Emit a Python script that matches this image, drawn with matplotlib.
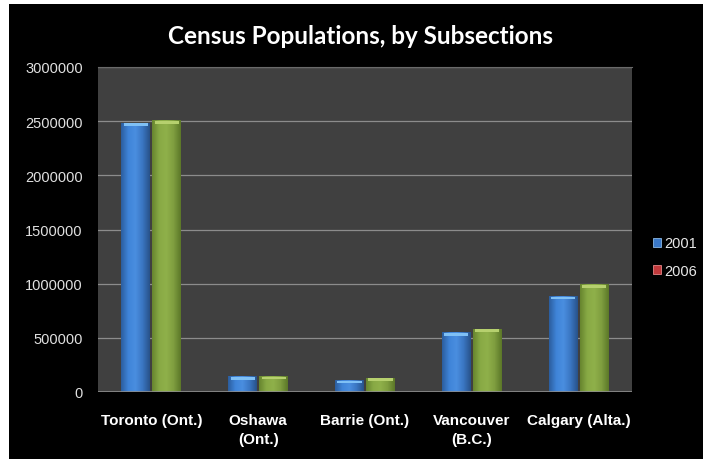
import numpy as np
import matplotlib
matplotlib.use('Agg')
import matplotlib.pyplot as plt
from matplotlib.colors import LinearSegmentedColormap
from matplotlib.patches import Rectangle

# Datos
ciudades = ['Toronto (Ont.)', 'Oshawa\n(Ont.)', 'Barrie (Ont.)', 'Vancouver\n(B.C.)', 'Calgary (Alta.)']
pob_2001 = [2481494, 139051, 103710, 545671, 878866]
pob_2006 = [2503281, 141590, 128430, 578041, 988193]
series = ['2001', '2006']
ticks_y = [0, 500000, 1000000, 1500000, 2000000, 2500000, 3000000]

fig = plt.figure(figsize=(7.03, 4.60), dpi=100, facecolor='black')
# borde blanco arriba e izquierda
fig.patches.append(Rectangle((0, 1 - 5 / 460), 1, 5 / 460, transform=fig.transFigure,
                             facecolor='white', edgecolor='none', zorder=-1))
fig.patches.append(Rectangle((0, 0), 9 / 703, 1, transform=fig.transFigure,
                             facecolor='white', edgecolor='none', zorder=-1))

ax = fig.add_axes([98 / 703, 1 - 393 / 460, (632 - 98) / 703, (393 - 68) / 460])
ax.set_zorder(2)
ax.set_facecolor('#404040')

x = np.arange(len(ciudades))
ancho = 0.27
barras1 = ax.bar(x - ancho / 2 - 0.01, pob_2001, ancho, color='#3a78c8', zorder=3, label=series[0])
barras2 = ax.bar(x + ancho / 2 + 0.01, pob_2006, ancho, color='#83a443', zorder=3, label=series[1])

# efecto de degradado tipo cilindro
cmap_azul = LinearSegmentedColormap.from_list('azul', ['#2c5e9e', '#3f84d8', '#4a8ee0', '#3a76c2', '#28528a'])
cmap_verde = LinearSegmentedColormap.from_list('verde', ['#67852f', '#88aa45', '#8fb04a', '#7f9e3f', '#5c7829'])
grad = np.linspace(0, 1, 64).reshape(1, -1)
for barras, cmap, tapa in [(barras1, cmap_azul, '#7fc0f5'), (barras2, cmap_verde, '#b6d06e')]:
    for b in barras:
        x0, w, h = b.get_x(), b.get_width(), b.get_height()
        b.set_facecolor('none')
        ax.imshow(grad, cmap=cmap, aspect='auto', extent=[x0, x0 + w, 0, h], zorder=3)
        # bisel superior
        ax.add_patch(Rectangle((x0 + w * 0.08, h - 25000), w * 0.84, 25000, facecolor=tapa,
                               edgecolor='none', zorder=4))

ax.set_xlim(-0.5, len(ciudades) - 0.5)
ax.set_ylim(0, 3000000)
ax.set_yticks(ticks_y)
ax.set_yticklabels([str(t) for t in ticks_y], color='#e0e0e0', fontsize=10.5, family='Liberation Sans')
ax.set_xticks(x)
ax.set_xticklabels(ciudades, color='white', fontsize=11, fontweight='bold', family='Liberation Sans',
                   linespacing=1.45)
ax.tick_params(axis='both', length=0)
ax.tick_params(axis='y', pad=11)
ax.tick_params(axis='x', pad=15)
ax.grid(axis='y', color='#8c8c8c', linewidth=0.9, zorder=1)
for lado in ['left', 'right', 'bottom']:
    ax.spines[lado].set_visible(False)
ax.spines['top'].set_color('#6a6a6a')
ax.axhline(0, color='#8c8c8c', linewidth=1.2, zorder=5)

fig.text(360 / 703, 1 - 44 / 460, 'Census Populations, by Subsections', ha='center', va='baseline',
         color='white', fontsize=17.5, fontweight='bold', family='Lato')

# leyenda (el 2006 aparece en rojo en el original)
h1 = Rectangle((0, 0), 1, 1, facecolor='#3a78c8', edgecolor='#9fd0ff', linewidth=0.5)
h2 = Rectangle((0, 0), 1, 1, facecolor='#c0393b', edgecolor='#ff9a9a', linewidth=0.5)
leg = fig.legend([h1, h2], series, loc='center left', bbox_to_anchor=(653 / 703, 1 - 258 / 460),
                 frameon=False, handlelength=0.55, handleheight=0.55, handletextpad=0.2,
                 labelspacing=0.9, borderpad=0, borderaxespad=0,
                 prop={'family': 'Liberation Sans', 'size': 10.5})
for t in leg.get_texts():
    t.set_color('#e8e8e8')

fig.savefig('out.png', dpi=100, facecolor=fig.get_facecolor())
